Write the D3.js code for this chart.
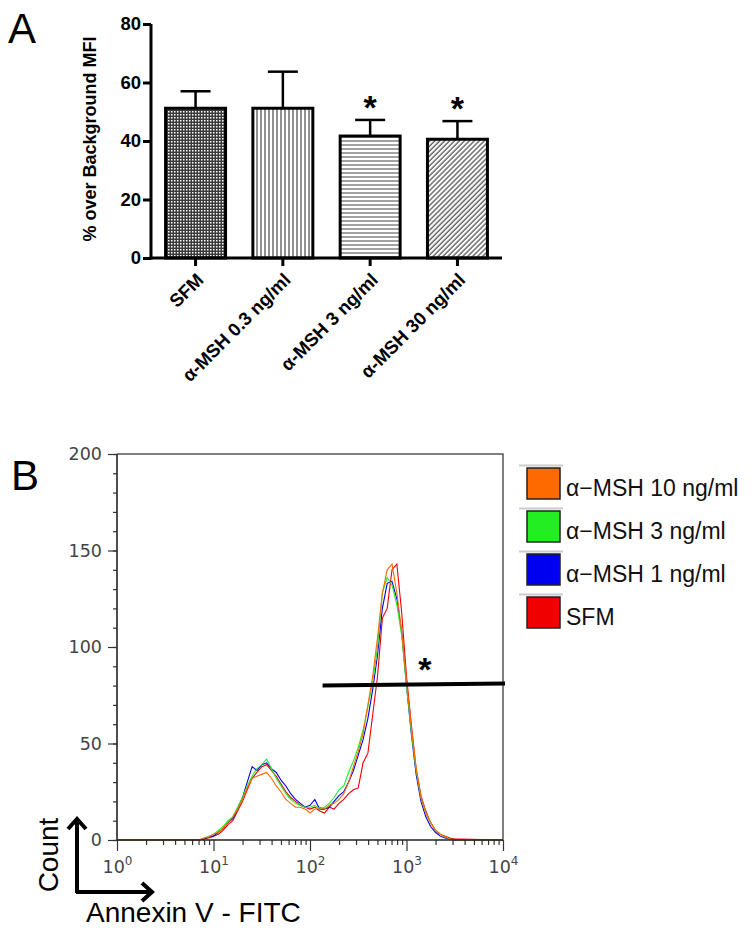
<!DOCTYPE html>
<html><head><meta charset="utf-8">
<script src="https://cdn.jsdelivr.net/npm/d3@7"></script>
<style>body{margin:0;background:#fff}svg{display:block}</style>
</head><body><svg id="c" width="753" height="938"></svg>
<script>
// ---------- Panel A data ----------
const barCategories = ["SFM", "α-MSH 0.3 ng/ml", "α-MSH 3 ng/ml", "α-MSH 30 ng/ml"];
const barMeans = [51.2, 51.2, 41.7, 40.6];
const barErrors = [5.8, 12.5, 5.5, 6.2];
const barSignificant = [false, false, true, true];
const barPatterns = ["checker", "vlines", "hlines", "dlines"];
const barYTicks = [0, 20, 40, 60, 80];

// ---------- Panel B data ----------
const histLogX = [0,
  0.85, 0.90, 0.95, 1.00, 1.05, 1.10, 1.15, 1.20, 1.25, 1.30,
  1.35, 1.40, 1.45, 1.50, 1.55, 1.60, 1.65, 1.70, 1.75, 1.80,
  1.85, 1.90, 1.95, 2.00, 2.05, 2.10, 2.15, 2.20, 2.25, 2.30,
  2.35, 2.40, 2.45, 2.50, 2.55, 2.60, 2.65, 2.70, 2.75, 2.80,
  2.85, 2.90, 2.95, 3.00, 3.05, 3.10, 3.15, 3.20, 3.25, 3.30,
  3.35, 3.40, 3.45, 3.50, 3.55, 4.0];
const histSFM = [0,
  0, 0.5, 1, 2, 3, 5, 8, 10, 15, 20,
  26, 32, 35, 38, 39, 36, 33, 29, 25, 22,
  20, 18, 17, 16, 17, 15, 14, 17, 16, 19,
  21, 24, 26, 27, 40, 45, 65, 85, 115, 120,
  140, 143, 118, 85, 60, 37, 23, 15, 9, 5,
  3, 2, 1, 0.5, 0.5, 0];
const histMSH1 = [0,
  0, 0.5, 1.5, 2, 4, 6, 9, 11, 16, 22,
  30, 38, 36, 39, 40, 37, 35, 31, 28, 24,
  21, 19, 17, 18, 21, 16, 16, 17, 20, 23,
  25, 30, 36, 44, 52, 63, 78, 96, 120, 133,
  134, 125, 108, 80, 55, 34, 20, 12, 7, 4,
  2, 1, 0.5, 0, 0, 0];
const histMSH3 = [0,
  0, 1, 2, 3, 5, 7, 10, 12, 17, 22,
  28, 33, 37, 39, 42, 37, 32, 28, 24, 21,
  19, 18, 17, 17, 18, 16, 17, 19, 22, 26,
  28, 35, 41, 48, 57, 69, 82, 100, 128, 136,
  132, 122, 106, 80, 56, 36, 22, 14, 9, 5,
  3, 1.5, 0.5, 0, 0, 0];
const histMSH10 = [0,
  0, 1, 1.5, 3, 4, 6, 9, 12, 16, 21,
  27, 32, 33, 34, 35, 32, 28, 25, 21, 19,
  17, 17, 16, 14, 16, 17, 16, 18, 19, 21,
  24, 30, 38, 46, 55, 70, 85, 105, 128, 140,
  143, 128, 108, 82, 58, 37, 22, 14, 9, 5,
  3, 1.5, 0.5, 0, 0, 0];
const seriesLabels = ["α−MSH 10 ng/ml", "α−MSH 3 ng/ml", "α−MSH 1 ng/ml", "SFM"];
const seriesColors = ["#ff6a00", "#22ee22", "#0000f0", "#f00000"];
const histYTicks = [0, 50, 100, 150, 200];
const histXTicks = [1, 10, 100, 1000, 10000];
const gate = {from: 135, to: 10500, count: 80};
const gateStar = {x: 1550, count: 92};

const svg = d3.select("#c");
const defs = svg.append("defs");

// patterns
const pc = defs.append("pattern").attr("id", "checker").attr("patternUnits", "userSpaceOnUse").attr("width", 3).attr("height", 3);
pc.append("rect").attr("width", 3).attr("height", 3).attr("fill", "#3a3a3a");
pc.append("rect").attr("x", 0).attr("y", 0).attr("width", 1.5).attr("height", 1.5).attr("fill", "#fff");
const pv = defs.append("pattern").attr("id", "vlines").attr("patternUnits", "userSpaceOnUse").attr("width", 4).attr("height", 4);
pv.append("rect").attr("width", 4).attr("height", 4).attr("fill", "#fff");
pv.append("line").attr("x1", 1).attr("x2", 1).attr("y1", 0).attr("y2", 4).attr("stroke", "#222").attr("stroke-width", 1);
const ph = defs.append("pattern").attr("id", "hlines").attr("patternUnits", "userSpaceOnUse").attr("width", 4).attr("height", 4);
ph.append("rect").attr("width", 4).attr("height", 4).attr("fill", "#fff");
ph.append("line").attr("y1", 1).attr("y2", 1).attr("x1", 0).attr("x2", 4).attr("stroke", "#444").attr("stroke-width", 1);
const pd = defs.append("pattern").attr("id", "dlines").attr("patternUnits", "userSpaceOnUse").attr("width", 3.5).attr("height", 3.5).attr("patternTransform", "rotate(45)");
pd.append("rect").attr("width", 3.5).attr("height", 3.5).attr("fill", "#fff");
pd.append("line").attr("x1", 1).attr("x2", 1).attr("y1", 0).attr("y2", 3.5).attr("stroke", "#222").attr("stroke-width", 1);

// ================= Panel A =================
const fontA = "'Liberation Sans', Arial, sans-serif";
svg.append("text").attr("x", 8).attr("y", 43).attr("font-family", fontA).attr("font-size", 42).text("A");

const yA = d3.scaleLinear().domain([0, 80]).range([258, 24]);
const xA = d3.scaleBand().domain(barCategories).range([151, 502]).paddingInner(0.313).paddingOuter(0.167);
const gA = svg.append("g");

barCategories.forEach((c, i) => {
  const x0 = xA(c), w = xA.bandwidth(), cx = x0 + w / 2;
  gA.append("line").attr("x1", cx).attr("x2", cx).attr("y1", yA(barMeans[i])).attr("y2", yA(barMeans[i] + barErrors[i]))
    .attr("stroke", "#000").attr("stroke-width", 2.5);
  gA.append("line").attr("x1", cx - 15).attr("x2", cx + 15).attr("y1", yA(barMeans[i] + barErrors[i])).attr("y2", yA(barMeans[i] + barErrors[i]))
    .attr("stroke", "#000").attr("stroke-width", 2.5);
  gA.append("rect").attr("x", x0).attr("y", yA(barMeans[i])).attr("width", w).attr("height", yA(0) - yA(barMeans[i]))
    .attr("fill", `url(#${barPatterns[i]})`).attr("stroke", "#000").attr("stroke-width", 3);
  if (barSignificant[i]) {
    gA.append("text").attr("x", cx).attr("y", yA(barMeans[i] + barErrors[i]) - 1).attr("text-anchor", "middle")
      .attr("font-family", fontA).attr("font-weight", "bold").attr("font-size", 34).text("*");
  }
});

// y axis A
const yAxisA = d3.axisLeft(yA).tickValues(barYTicks).tickSize(8).tickPadding(2);
const gYA = svg.append("g").attr("transform", "translate(151,0)").call(yAxisA);
gYA.select(".domain").attr("stroke-width", 3).attr("d", `M0,${yA(80)}V${yA(0) + 1.5}`);
gYA.selectAll(".tick line").attr("stroke-width", 3);
gYA.selectAll(".tick text").attr("font-family", fontA).attr("font-weight", "bold").attr("font-size", 18.5).attr("fill", "#000");

// x axis A
const xAxisA = d3.axisBottom(xA).tickSize(8).tickSizeOuter(0);
const gXA = svg.append("g").attr("transform", `translate(0,${yA(0)})`).call(xAxisA);
gXA.select(".domain").attr("stroke-width", 3).attr("d", "M149.5,0H502");
gXA.selectAll(".tick line").attr("stroke-width", 3);
gXA.selectAll(".tick text").attr("font-family", fontA).attr("font-weight", "bold").attr("font-size", 18.5).attr("fill", "#000")
  .attr("text-anchor", "end").attr("dy", null).attr("y", 0)
  .attr("transform", "translate(9,23) rotate(-45)");

svg.append("text").attr("transform", "translate(96,139) rotate(-90)").attr("text-anchor", "middle")
  .attr("font-family", fontA).attr("font-weight", "bold").attr("font-size", 18).text("% over Background MFI");

// ================= Panel B =================
const fontB = "'DejaVu Sans', Verdana, sans-serif";
svg.append("text").attr("x", 11).attr("y", 490).attr("font-family", fontA).attr("font-size", 42).text("B");

const xB = d3.scaleLog().domain([1, 10000]).range([117, 503]);
const yB = d3.scaleLinear().domain([0, 200]).range([840, 454]);

svg.append("path").attr("d", `M${xB(1)},${yB(200)}H${xB(10000)}V${yB(0)}`).attr("fill", "none").attr("stroke", "#555").attr("stroke-width", 1.5);

const lineB = d3.line().x(d => xB(Math.pow(10, d[0]))).y(d => yB(d[1]));
const seriesData = [histSFM, histMSH1, histMSH3, histMSH10];
const seriesCol = [seriesColors[3], seriesColors[2], seriesColors[1], seriesColors[0]];
seriesData.forEach((s, k) => {
  svg.append("path").datum(histLogX.map((lx, i) => [lx, s[i]])).attr("d", lineB)
    .attr("fill", "none").attr("stroke", seriesCol[k]).attr("stroke-width", 1.1);
});

const gYB = svg.append("g").attr("transform", `translate(${xB(1)},0)`);
gYB.call(d3.axisLeft(yB).tickValues(d3.range(0, 201, 10)).tickSize(4).tickFormat(""));
gYB.select(".domain").remove();
gYB.selectAll("line").attr("stroke", "#333").attr("stroke-width", 1.2);
const gYB2 = svg.append("g").attr("transform", `translate(${xB(1)},0)`);
gYB2.call(d3.axisLeft(yB).tickValues(histYTicks).tickSize(9).tickPadding(6));
gYB2.select(".domain").attr("stroke", "#222").attr("stroke-width", 1.6).attr("d", `M0,${yB(200)}V${yB(0)}`);
gYB2.selectAll(".tick line").attr("stroke", "#333").attr("stroke-width", 1.2);
gYB2.selectAll(".tick text").attr("font-family", fontB).attr("font-size", 17.5).attr("fill", "#444");

const minorX = [];
for (let e = 0; e < 4; e++) for (let m = 2; m <= 9; m++) minorX.push(m * Math.pow(10, e));
const gXB = svg.append("g").attr("transform", `translate(0,${yB(0)})`);
gXB.call(d3.axisBottom(xB).tickValues(minorX).tickSize(5).tickFormat(""));
gXB.select(".domain").remove();
gXB.selectAll("line").attr("stroke", "#333").attr("stroke-width", 1.2);
const gXB2 = svg.append("g").attr("transform", `translate(0,${yB(0)})`);
gXB2.call(d3.axisBottom(xB).tickValues(histXTicks).tickSize(11).tickFormat(""));
gXB2.select(".domain").attr("stroke", "#222").attr("stroke-width", 1.6).attr("d", `M${xB(1)},0H${xB(10000)}`);
gXB2.selectAll(".tick line").attr("stroke", "#333").attr("stroke-width", 1.2);
gXB2.selectAll(".tick").each(function(d) {
  const t = d3.select(this).append("text").attr("y", 33).attr("text-anchor", "middle")
    .attr("font-family", fontB).attr("font-size", 17.5).attr("fill", "#444");
  t.append("tspan").text("10");
  t.append("tspan").attr("dy", -8).attr("font-size", 12).text(String(Math.round(Math.log10(d))));
});

svg.append("line").attr("x1", xB(gate.from)).attr("x2", xB(gate.to)).attr("y1", yB(gate.count)).attr("y2", yB(gate.count) - 2)
  .attr("stroke", "#000").attr("stroke-width", 4);
svg.append("text").attr("x", xB(gateStar.x)).attr("y", yB(gateStar.count) + 19).attr("text-anchor", "middle")
  .attr("font-family", fontA).attr("font-weight", "bold").attr("font-size", 34).text("*");

const legTop = 468, legStep = 43;
seriesLabels.forEach((lab, i) => {
  const ty = legTop + i * legStep;
  svg.append("line").attr("x1", 519).attr("x2", 563).attr("y1", ty - 2.5).attr("y2", ty - 2.5).attr("stroke", "#ccc").attr("stroke-width", 2);
  svg.append("rect").attr("x", 527).attr("y", ty).attr("width", 33).attr("height", 31)
    .attr("fill", seriesColors[i]).attr("stroke", "#222").attr("stroke-width", 1.5);
  svg.append("text").attr("x", 566).attr("y", ty + 28).attr("font-family", fontA).attr("font-size", 23).attr("fill", "#111").text(lab);
});

svg.append("text").attr("transform", "translate(58,855) rotate(-90)").attr("text-anchor", "middle")
  .attr("font-family", fontA).attr("font-size", 28).text("Count");
svg.append("text").attr("x", 86).attr("y", 922).attr("font-family", fontA).attr("font-size", 28).text("Annexin V - FITC");
svg.append("path").attr("d", "M77,893V819M68,829L77,819L86,829M76,892H152M142,883L152,892L142,901")
  .attr("fill", "none").attr("stroke", "#000").attr("stroke-width", 4).attr("stroke-linejoin", "miter");
</script>
</body></html>
